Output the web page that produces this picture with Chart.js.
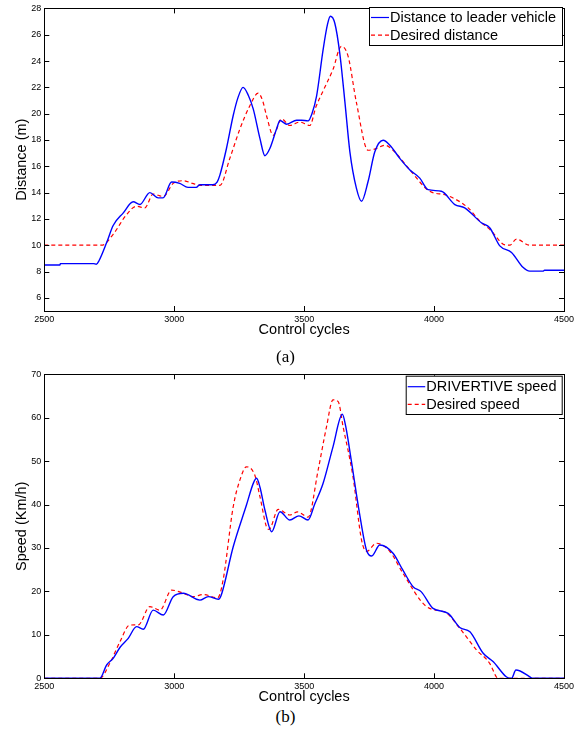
<!DOCTYPE html>
<html>
<head>
<meta charset="utf-8">
<script src="https://cdn.jsdelivr.net/npm/chart.js@4"></script>
<style>
  html,body{margin:0;padding:0;background:#fff;}
  #wrap{position:relative;width:585px;height:741px;overflow:hidden;}
  canvas{position:absolute;left:0;}
  .cap{position:absolute;font-family:"Liberation Serif","DejaVu Serif",serif;font-size:17px;color:#000;width:585px;text-align:center;left:0;}
</style>
</head>
<body>
<div id="wrap">
  <canvas id="c1" width="585" height="342" style="top:0px"></canvas>
  <canvas id="c2" width="585" height="347" style="top:360px"></canvas>
  <div class="cap" id="capA" style="top:347px;left:-7px">(a)</div>
  <div class="cap" id="capB" style="top:707px;left:-7px">(b)</div>
</div>
<script>
// ---------- DATA ----------
const xTicks = [2500, 3000, 3500, 4000, 4500];
const distTicks = [6, 8, 10, 12, 14, 16, 18, 20, 22, 24, 26, 28];
const speedTicks = [0, 10, 20, 30, 40, 50, 60, 70];

const labelsDist = ["Distance to leader vehicle", "Desired distance"];
const labelsSpeed = ["DRIVERTIVE speed", "Desired speed"];

const leaderX = [2500,2560,2562,2690,2700,2710,2740,2765,2804,2842,2868,2906,2938,2957,2990,3021,3053,3085,3098,3149,3165,3176,3201,3227,3245,3265,3285,3304,3330,3349,3368,3394,3407,3433,3471,3490,3515,3530,3548,3573,3590,3601,3618,3637,3657,3676,3701,3721,3746,3772,3804,3830,3868,3907,3945,3977,4028,4080,4118,4182,4214,4253,4298,4342,4368,4419,4425,4500];
const leaderDist = [8.5,8.5,8.6,8.6,8.55,8.8,10.2,11.5,12.46,13.3,13.1,14.0,13.6,13.6,14.8,14.7,14.4,14.4,14.6,14.6,14.8,15.35,17.35,19.86,21.2,22.0,21.4,20.36,18.1,16.8,17.35,18.85,19.48,19.2,19.5,19.5,19.45,20.0,21.36,24.87,26.8,27.4,26.87,24.6,20.86,17.1,14.34,13.34,14.84,17.1,17.98,17.6,16.6,15.72,15.1,14.22,14.1,13.09,12.84,11.71,11.33,9.95,9.45,8.32,8.03,8.03,8.1,8.1];

const desiredDX = [2500,2721,2765,2817,2855,2887,2919,2958,2996,3035,3070,3099,3176,3214,3253,3291,3323,3340,3355,3381,3413,3445,3483,3522,3545,3573,3611,3643,3669,3701,3746,3778,3810,3842,3907,3983,4048,4131,4176,4221,4266,4291,4317,4368,4500];
const desiredDist = [10,10,10.83,12.34,12.96,12.84,13.89,13.7,14.7,14.9,14.7,14.55,14.55,16.6,18.85,20.6,21.56,21.0,19.86,18.35,19.6,19.1,19.36,19.1,20.5,21.73,23.36,25.12,24.37,20.86,17.22,17.35,17.6,17.22,15.72,14.1,13.8,12.84,11.83,11.08,10.08,10,10.46,10,10];

const speedX = [2500,2714,2740,2765,2791,2823,2855,2881,2919,2958,2996,3035,3099,3131,3170,3180,3227,3278,3305,3317,3330,3349,3375,3407,3445,3480,3515,3540,3573,3611,3647,3660,3681,3713,3740,3760,3791,3842,3880,3919,3951,3996,4054,4099,4138,4189,4228,4279,4298,4315,4367,4377,4500];
const speedVal = [0,0,3.06,4.6,7.1,9.2,11.9,11.3,15.7,14.57,18.8,19.57,18.0,18.8,18.2,19,30.3,39.9,45,46.05,44,38.75,33.76,38.36,36.45,37.4,36.45,40,44.9,53.3,60.8,58,50.3,38.0,29.5,28.16,30.7,28.8,24.9,21.1,19.9,16.1,14.96,11.7,10.7,5.76,3.8,0.3,0,1.9,0.4,0,0];

const desiredSX = [2500,2714,2752,2791,2829,2862,2906,2945,2990,3035,3073,3112,3167,3188,3227,3253,3278,3310,3330,3355,3365,3400,3445,3475,3515,3554,3586,3611,3631,3650,3688,3721,3740,3778,3830,3880,3971,4048,4099,4164,4214,4240,4246,4500];
const desiredSpeed = [0,0,3.45,8.4,12.27,12.3,16.5,15.7,20.3,19.6,18.8,19.3,18.5,22.6,39.5,45.7,48.7,46.8,41.8,34.9,34.3,38.9,37.6,38.3,37.1,48.0,57.9,64.1,63.7,57.9,46.4,31.8,29.2,31.1,29.2,24.2,16.5,15,11.5,6.5,3.45,0.3,0,0];

// ---------- HELPERS ----------
const zip = (xs, ys) => xs.map((x, i) => ({x: x, y: ys[i]}));
const FONT = "'Liberation Sans', Arial, Helvetica, sans-serif";

const framePlugin = {
  id: 'frame',
  afterDraw(chart) {
    const {ctx, chartArea: a, scales} = chart;
    ctx.save();
    ctx.strokeStyle = '#000';
    ctx.lineWidth = 1;
    ctx.strokeRect(Math.round(a.left) + 0.5, Math.round(a.top) + 0.5, Math.round(a.right - a.left), Math.round(a.bottom - a.top));
    const L = 5;
    ctx.beginPath();
    scales.x.ticks.forEach(t => {
      const px = Math.round(scales.x.getPixelForValue(t.value)) + 0.5;
      ctx.moveTo(px, a.bottom); ctx.lineTo(px, a.bottom - L);
      ctx.moveTo(px, a.top); ctx.lineTo(px, a.top + L);
    });
    scales.y.ticks.forEach(t => {
      const py = Math.round(scales.y.getPixelForValue(t.value)) + 0.5;
      ctx.moveTo(a.left, py); ctx.lineTo(a.left + L, py);
      ctx.moveTo(a.right, py); ctx.lineTo(a.right - L, py);
    });
    ctx.stroke();
    // legend box
    const o = chart.options.plugins.boxLegend;
    if (o) {
      ctx.fillStyle = '#fff';
      ctx.fillRect(o.x, o.y, o.w, o.h);
      ctx.strokeStyle = '#000';
      ctx.lineWidth = 1;
      ctx.strokeRect(o.x + 0.5, o.y + 0.5, o.w, o.h);
      ctx.font = o.fontSize + 'px ' + FONT;
      ctx.textBaseline = 'middle';
      ctx.textAlign = 'left';
      chart.data.datasets.forEach((ds, i) => {
        const cy = o.y + o.first + i * o.rowH;
        ctx.save();
        ctx.strokeStyle = ds.borderColor;
        ctx.lineWidth = 1.2;
        ctx.setLineDash(ds.borderDash || []);
        ctx.beginPath();
        ctx.moveTo(o.x + 2, cy); ctx.lineTo(o.x + 2 + o.lineLen, cy);
        ctx.stroke();
        ctx.restore();
        ctx.fillStyle = '#000';
        ctx.fillText(ds.label, o.x + 3 + o.lineLen, cy + 0.5);
      });
    }
    ctx.restore();
  }
};

function makeChart(id, cfg) {
  return new Chart(document.getElementById(id), {
    type: 'line',
    data: {
      datasets: [
        {label: cfg.labels[0], data: cfg.s1, borderColor: '#0000ff', borderWidth: 1.4, pointRadius: 0, cubicInterpolationMode: 'monotone', fill: false},
        {label: cfg.labels[1], data: cfg.s2, borderColor: '#ff0000', borderWidth: 1.2, borderDash: [4, 3], pointRadius: 0, cubicInterpolationMode: 'monotone', fill: false}
      ]
    },
    options: {
      responsive: false,
      animation: false,
      devicePixelRatio: 1,
      layout: {padding: {left: 0, right: 21, top: cfg.top, bottom: 0}},
      plugins: {legend: {display: false}, tooltip: {enabled: false}, boxLegend: cfg.legend},
      scales: {
        x: {
          type: 'linear', min: 2500, max: 4500,
          afterBuildTicks: s => { s.ticks = xTicks.map(v => ({value: v})); },
          afterFit: s => { s.height = cfg.xH; },
          grid: {display: false, drawTicks: false},
          border: {display: false},
          ticks: {font: {size: 9, family: FONT}, color: '#000', padding: 3, maxRotation: 0, callback: v => String(v)},
          title: {display: true, text: 'Control cycles', font: {size: 14.5, family: FONT}, color: '#000', padding: {top: 0, bottom: cfg.titlePad}}
        },
        y: {
          min: cfg.ymin, max: cfg.ymax,
          afterBuildTicks: s => { s.ticks = cfg.yTicks.map(v => ({value: v})); },
          afterFit: s => { s.width = 44.3; },
          grid: {display: false, drawTicks: false},
          border: {display: false},
          ticks: {font: {size: 9, family: FONT}, color: '#000', padding: 3, callback: v => String(v)},
          title: {display: true, text: cfg.yTitle, font: {size: 14.5, family: FONT}, color: '#000', padding: {top: 13.5, bottom: 0}}
        }
      }
    },
    plugins: [framePlugin]
  });
}

makeChart('c1', {
  labels: labelsDist,
  s1: zip(leaderX, leaderDist),
  s2: zip(desiredDX, desiredDist),
  ymin: 5, ymax: 28, yTicks: distTicks, yTitle: 'Distance (m)',
  top: 5, xH: 31, titlePad: 3,
  legend: {x: 369, y: 7, w: 193, h: 38, first: 10.5, rowH: 17.7, lineLen: 18, fontSize: 14.5}
});

makeChart('c2', {
  labels: labelsSpeed,
  s1: zip(speedX, speedVal),
  s2: zip(desiredSX, desiredSpeed),
  ymin: 0, ymax: 70, yTicks: speedTicks, yTitle: 'Speed (Km/h)',
  top: 14.3, xH: 28.7, titlePad: 1,
  legend: {x: 405.7, y: 15.7, w: 156, h: 38.3, first: 11, rowH: 17.6, lineLen: 17.5, fontSize: 14.5}
});
</script>
</body>
</html>
